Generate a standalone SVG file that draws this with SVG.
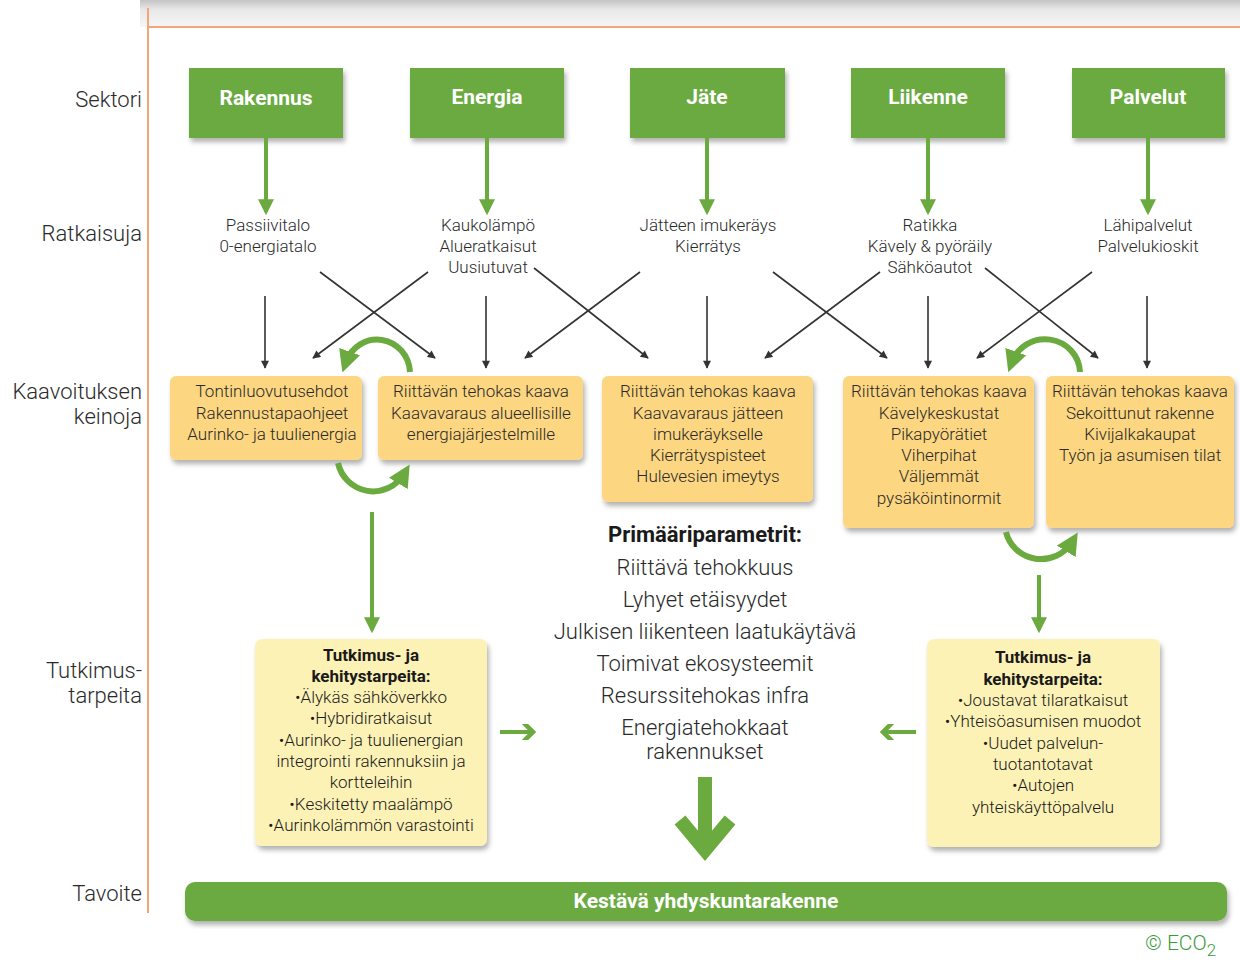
<svg xmlns="http://www.w3.org/2000/svg" width="1240" height="971" viewBox="0 0 1240 971">
<defs>
<style>
.lbl{font-family:Roboto,"Liberation Sans",sans-serif;font-weight:300;font-size:22px;fill:#2a2a2a;text-anchor:end}
.sec{font-family:Roboto,"Liberation Sans",sans-serif;font-weight:700;font-size:21px;fill:#fff;text-anchor:middle}
.sol{font-family:Roboto,"Liberation Sans",sans-serif;font-weight:300;font-size:17px;fill:#2a2a2a;text-anchor:middle}
.box{font-family:Roboto,"Liberation Sans",sans-serif;font-weight:300;font-size:17px;fill:#2a2a2a;text-anchor:middle}
.res{font-family:Roboto,"Liberation Sans",sans-serif;font-weight:300;font-size:17px;fill:#1a1a1a;text-anchor:middle}
.resb{font-weight:700}
.cen{font-family:Roboto,"Liberation Sans",sans-serif;font-weight:300;font-size:22px;fill:#2a2a2a;text-anchor:middle}
.cenb{font-weight:700;fill:#1a1a1a}
.green{fill:#6aaa3f}
.orange{fill:#fcd680}
.yellow{fill:#fdf2b6}
.blk{stroke:#333;stroke-width:1.6;fill:none}
.garr{stroke:#6aaa3f;stroke-width:4;fill:none}
.gcirc{stroke:#6aaa3f;stroke-width:6;fill:none}
</style>
<filter id="sh" x="-10%" y="-10%" width="125%" height="130%">
<feDropShadow dx="2" dy="4" stdDeviation="2.5" flood-color="#000" flood-opacity="0.3"/>
</filter>
<linearGradient id="topg" x1="0" y1="0" x2="0" y2="1">
<stop offset="0" stop-color="#c4c4c4"/>
<stop offset="0.35" stop-color="#e8e8e8"/>
<stop offset="1" stop-color="#f6f6f6"/>
</linearGradient>
<marker id="ab" viewBox="0 0 10 10" refX="9" refY="5" markerWidth="10" markerHeight="8" markerUnits="userSpaceOnUse" orient="auto">
<path d="M0,0 L10,5 L0,10 z" fill="#333"/>
</marker>
<marker id="ag" viewBox="0 0 10 10" refX="8" refY="5" markerWidth="18" markerHeight="16" markerUnits="userSpaceOnUse" orient="auto">
<path d="M0,0 L10,5 L0,10 z" fill="#6aaa3f"/>
</marker>
<marker id="agc" viewBox="0 0 10 10" refX="5" refY="5" markerWidth="22" markerHeight="22" markerUnits="userSpaceOnUse" orient="auto">
<path d="M0,0 L10,5 L0,10 z" fill="#6aaa3f"/>
</marker>
<marker id="agv" viewBox="0 0 10 10" refX="7" refY="5" markerWidth="16" markerHeight="18" markerUnits="userSpaceOnUse" orient="auto">
<path d="M0,0 L4,0 L9,5 L4,10 L0,10 L5,5 z" fill="#6aaa3f"/>
</marker>
</defs>
<rect width="1240" height="971" fill="#fff"/>
<rect x="140" y="0" width="1100" height="27" fill="url(#topg)"/>
<g id="frame">
<line x1="148" y1="8" x2="148" y2="913" stroke="#f4a678" stroke-width="2"/>
<line x1="148" y1="27" x2="1240" y2="27" stroke="#f4a678" stroke-width="2"/>
</g>
<g id="row-labels">
<text class="lbl" x="142" y="107">Sektori</text>
<text class="lbl" x="142" y="241">Ratkaisuja</text>
<text class="lbl" x="142" y="399">Kaavoituksen</text>
<text class="lbl" x="142" y="424">keinoja</text>
<text class="lbl" x="142" y="678">Tutkimus-</text>
<text class="lbl" x="142" y="703">tarpeita</text>
<text class="lbl" x="142" y="901">Tavoite</text>
</g>
<g id="sector-rakennus"><rect class="green" x="189" y="68" width="154" height="70" filter="url(#sh)"/><text class="sec" x="266" y="105">Rakennus</text></g>
<g id="sector-energia"><rect class="green" x="410" y="68" width="154" height="70" filter="url(#sh)"/><text class="sec" x="487" y="104">Energia</text></g>
<g id="sector-jate"><rect class="green" x="630" y="68" width="155" height="70" filter="url(#sh)"/><text class="sec" x="707" y="104">Jäte</text></g>
<g id="sector-liikenne"><rect class="green" x="851" y="68" width="154" height="70" filter="url(#sh)"/><text class="sec" x="928" y="104">Liikenne</text></g>
<g id="sector-palvelut"><rect class="green" x="1072" y="68" width="153" height="70" filter="url(#sh)"/><text class="sec" x="1148" y="104">Palvelut</text></g>
<g id="sol-rakennus"><text class="sol" x="268" y="231">Passiivitalo</text><text class="sol" x="268" y="252">0-energiatalo</text></g>
<g id="sol-energia"><text class="sol" x="488" y="231">Kaukolämpö</text><text class="sol" x="488" y="252">Alueratkaisut</text><text class="sol" x="488" y="273">Uusiutuvat</text></g>
<g id="sol-jate"><text class="sol" x="708" y="231">Jätteen imukeräys</text><text class="sol" x="708" y="252">Kierrätys</text></g>
<g id="sol-liikenne"><text class="sol" x="930" y="231">Ratikka</text><text class="sol" x="930" y="252">Kävely &amp; pyöräily</text><text class="sol" x="930" y="273">Sähköautot</text></g>
<g id="sol-palvelut"><text class="sol" x="1148" y="231">Lähipalvelut</text><text class="sol" x="1148" y="252">Palvelukioskit</text></g>
<g id="kaava-1"><rect class="orange" x="170" y="376" width="192" height="84" rx="6" filter="url(#sh)"/>
<text class="box" x="272" y="397">Tontinluovutusehdot</text><text class="box" x="272" y="419">Rakennustapaohjeet</text><text class="box" x="272" y="440">Aurinko- ja tuulienergia</text></g>
<g id="kaava-2"><rect class="orange" x="378" y="376" width="205" height="84" rx="6" filter="url(#sh)"/>
<text class="box" x="481" y="397">Riittävän tehokas kaava</text><text class="box" x="481" y="419">Kaavavaraus alueellisille</text><text class="box" x="481" y="440">energiajärjestelmille</text></g>
<g id="kaava-3"><rect class="orange" x="602" y="376" width="211" height="126" rx="6" filter="url(#sh)"/>
<text class="box" x="708" y="397">Riittävän tehokas kaava</text><text class="box" x="708" y="419">Kaavavaraus jätteen</text><text class="box" x="708" y="440">imukeräykselle</text><text class="box" x="708" y="461">Kierrätyspisteet</text><text class="box" x="708" y="482">Hulevesien imeytys</text></g>
<g id="kaava-4"><rect class="orange" x="843" y="376" width="191" height="152" rx="6" filter="url(#sh)"/>
<text class="box" x="939" y="397">Riittävän tehokas kaava</text><text class="box" x="939" y="419">Kävelykeskustat</text><text class="box" x="939" y="440">Pikapyörätiet</text><text class="box" x="939" y="461">Viherpihat</text><text class="box" x="939" y="482">Väljemmät</text><text class="box" x="939" y="504">pysäköintinormit</text></g>
<g id="kaava-5"><rect class="orange" x="1046" y="376" width="188" height="152" rx="6" filter="url(#sh)"/>
<text class="box" x="1140" y="397">Riittävän tehokas kaava</text><text class="box" x="1140" y="419">Sekoittunut rakenne</text><text class="box" x="1140" y="440">Kivijalkakaupat</text><text class="box" x="1140" y="461">Työn ja asumisen tilat</text></g>
<g id="research-left"><rect class="yellow" x="255" y="639" width="232" height="207" rx="7" filter="url(#sh)"/>
<text class="res" x="371" y="661"><tspan class="resb">Tutkimus- ja</tspan></text>
<text class="res" x="371" y="682"><tspan class="resb">kehitystarpeita:</tspan></text>
<text class="res" x="371" y="703">•Älykäs sähköverkko</text>
<text class="res" x="371" y="724">•Hybridiratkaisut</text>
<text class="res" x="371" y="746">•Aurinko- ja tuulienergian</text>
<text class="res" x="371" y="767">integrointi rakennuksiin ja</text>
<text class="res" x="371" y="788">kortteleihin</text>
<text class="res" x="371" y="810">•Keskitetty maalämpö</text>
<text class="res" x="371" y="831">•Aurinkolämmön varastointi</text></g>
<g id="research-right"><rect class="yellow" x="927" y="639" width="233" height="208" rx="7" filter="url(#sh)"/>
<text class="res" x="1043" y="663"><tspan class="resb">Tutkimus- ja</tspan></text>
<text class="res" x="1043" y="685"><tspan class="resb">kehitystarpeita:</tspan></text>
<text class="res" x="1043" y="706">•Joustavat tilaratkaisut</text>
<text class="res" x="1043" y="727">•Yhteisöasumisen muodot</text>
<text class="res" x="1043" y="749">•Uudet palvelun-</text>
<text class="res" x="1043" y="770">tuotantotavat</text>
<text class="res" x="1043" y="791">•Autojen</text>
<text class="res" x="1043" y="813">yhteiskäyttöpalvelu</text></g>
<g id="primary-parameters">
<text class="cen" x="705" y="542"><tspan class="cenb">Primääriparametrit:</tspan></text>
<text class="cen" x="705" y="575">Riittävä tehokkuus</text>
<text class="cen" x="705" y="607">Lyhyet etäisyydet</text>
<text class="cen" x="705" y="639">Julkisen liikenteen laatukäytävä</text>
<text class="cen" x="705" y="671">Toimivat ekosysteemit</text>
<text class="cen" x="705" y="703">Resurssitehokas infra</text>
<text class="cen" x="705" y="735">Energiatehokkaat</text>
<text class="cen" x="705" y="759">rakennukset</text>
</g>
<g id="goal"><rect class="green" x="185" y="882" width="1042" height="39" rx="10" filter="url(#sh)"/>
<text class="sec" x="706" y="908">Kestävä yhdyskuntarakenne</text></g>
<g id="copyright"><text x="1145" y="950" font-family="Roboto,'Liberation Sans',sans-serif" font-weight="300" font-size="21" fill="#3a9a3a">© ECO<tspan font-size="17" dy="6">2</tspan></text></g>
<g id="connectors">
<line class="garr" x1="266" y1="138" x2="266" y2="212" marker-end="url(#ag)"/>
<line class="garr" x1="487" y1="138" x2="487" y2="212" marker-end="url(#ag)"/>
<line class="garr" x1="707" y1="138" x2="707" y2="212" marker-end="url(#ag)"/>
<line class="garr" x1="928" y1="138" x2="928" y2="212" marker-end="url(#ag)"/>
<line class="garr" x1="1148" y1="138" x2="1148" y2="212" marker-end="url(#ag)"/>
<line class="blk" x1="265" y1="296" x2="265" y2="368" marker-end="url(#ab)"/>
<line class="blk" x1="486" y1="296" x2="486" y2="368" marker-end="url(#ab)"/>
<line class="blk" x1="707" y1="296" x2="707" y2="368" marker-end="url(#ab)"/>
<line class="blk" x1="928" y1="296" x2="928" y2="368" marker-end="url(#ab)"/>
<line class="blk" x1="1147" y1="296" x2="1147" y2="368" marker-end="url(#ab)"/>
<line class="blk" x1="320" y1="272" x2="435" y2="358" marker-end="url(#ab)"/>
<line class="blk" x1="428" y1="272" x2="313" y2="358" marker-end="url(#ab)"/>
<line class="blk" x1="534" y1="268" x2="648" y2="358" marker-end="url(#ab)"/>
<line class="blk" x1="640" y1="272" x2="525" y2="358" marker-end="url(#ab)"/>
<line class="blk" x1="773" y1="272" x2="887" y2="358" marker-end="url(#ab)"/>
<line class="blk" x1="880" y1="272" x2="765" y2="358" marker-end="url(#ab)"/>
<line class="blk" x1="985" y1="268" x2="1098" y2="358" marker-end="url(#ab)"/>
<line class="blk" x1="1092" y1="272" x2="977" y2="358" marker-end="url(#ab)"/>
<path class="gcirc" d="M410,372 A33,34 0 0 0 346,362" marker-end="url(#agc)"/>
<path class="gcirc" d="M338,463 A36,36 0 0 0 404,474" marker-end="url(#agc)"/>
<path class="gcirc" d="M1080,372 A35,34 0 0 0 1012,362" marker-end="url(#agc)"/>
<path class="gcirc" d="M1006,532 A36,35 0 0 0 1072,542" marker-end="url(#agc)"/>
<line class="garr" x1="372" y1="512" x2="372" y2="630" stroke-width="5" marker-end="url(#ag)"/>
<line class="garr" x1="1039" y1="575" x2="1039" y2="630" stroke-width="5" marker-end="url(#ag)"/>
<line class="garr" x1="500" y1="732" x2="533" y2="732" stroke-width="5" marker-end="url(#agv)"/>
<line class="garr" x1="916" y1="732" x2="883" y2="732" stroke-width="5" marker-end="url(#agv)"/>
<path d="M705,777 L705,848" stroke="#6aaa3f" stroke-width="14" fill="none"/>
<path d="M680,820 L705,850 L730,820" stroke="#6aaa3f" stroke-width="14" fill="none" stroke-linejoin="miter"/>
</g>
</svg>
